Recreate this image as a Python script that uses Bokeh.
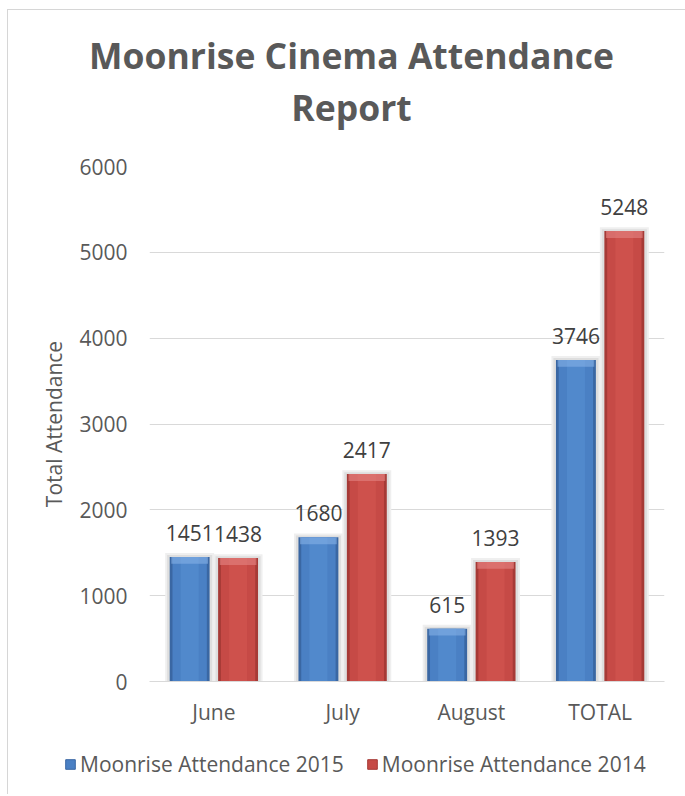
from bokeh.plotting import figure
from bokeh.models import (ColumnDataSource, Range1d, FactorRange, SingleIntervalTicker,
                          LabelSet, Legend, LegendItem, Label)
from bokeh.layouts import column
from bokeh.core.properties import value
from bokeh.transform import dodge
from bokeh.embed import file_html
from bokeh.resources import INLINE

# ---- data ----
months = ["June", "July", "August", "TOTAL"]
att_2015 = [1451, 1680, 615, 3746]
att_2014 = [1438, 2417, 1393, 5248]
series_names = ["Moonrise Attendance 2015", "Moonrise Attendance 2014"]
title_lines = ["Moonrise Cinema Attendance", "Report"]

FONT = "Open Sans"
GRAY = "#595959"
WIDTH = 677


def strip(height):
    f = figure(width=WIDTH, height=height, output_backend="svg", toolbar_location=None,
               x_range=Range1d(0, WIDTH), y_range=Range1d(0, height),
               x_axis_location=None, y_axis_location=None,
               min_border_left=0, min_border_right=0, min_border_top=0, min_border_bottom=0,
               outline_line_color=None, background_fill_color="white",
               border_fill_color="white")
    f.xgrid.grid_line_color = None
    f.ygrid.grid_line_color = None
    f.title = None
    f.frame_align = False
    return f


# ---- title strip ----
ts = strip(130)
ts.add_layout(Label(x=343, y=86, text=title_lines[0], text_align="center",
                    text_baseline="middle", text_font=FONT, text_font_size="35.5px",
                    text_font_style="bold", text_color=GRAY))
ts.add_layout(Label(x=343, y=34, text=title_lines[1], text_align="center",
                    text_baseline="middle", text_font=FONT, text_font_size="35.5px",
                    text_font_style="bold", text_color=GRAY))

# ---- main chart ----
src = ColumnDataSource(dict(
    m=months,
    a15=att_2015,
    a14=att_2014,
    a15_cap=[v - 80 for v in att_2015],
    a14_cap=[v - 80 for v in att_2014],
    a15_sh=[v + 45 for v in att_2015],
    a14_sh=[v + 45 for v in att_2014],
    a15_sh2=[v + 22 for v in att_2015],
    a14_sh2=[v + 22 for v in att_2014],
    l15=[str(v) for v in att_2015],
    l14=[str(v) for v in att_2014],
))

p = figure(x_range=FactorRange(*months), y_range=Range1d(0, 6000),
           width=WIDTH, height=596, output_backend="svg", toolbar_location=None,
           min_border_left=141, min_border_right=21, min_border_top=26,
           min_border_bottom=55, outline_line_color=None,
           background_fill_color="white", border_fill_color="white")
p.title = None
p.frame_align = False

W = 0.31
OFF = 0.188
BLUE = ("#3a67a3", "#4a80c4", "#5a94d8", "#86b0e6")
RED = ("#a63a36", "#c64a46", "#d65a55", "#e58683")

series = [
    ("a15", -OFF, BLUE, "a15_cap", "a15_sh", "a15_sh2", "l15"),
    ("a14", OFF, RED, "a14_cap", "a14_sh", "a14_sh2", "l14"),
]
for col, off, (dark, mid, light, cap), capcol, shcol, shcol2, lab in series:
    x = dodge("m", off, range=p.x_range)
    p.vbar(x=x, top=shcol, bottom=0, width=W + 0.07, source=src,
           fill_color="#efefef", line_color=None)
    p.vbar(x=x, top=shcol2, bottom=0, width=W + 0.04, source=src,
           fill_color="#dedede", line_color=None)
    p.vbar(x=x, top=col, bottom=0, width=W, source=src,
           fill_color=dark, line_color=None)
    p.vbar(x=x, top=col, bottom=0, width=W * 0.86, source=src,
           fill_color=mid, line_color=None)
    p.vbar(x=x, top=col, bottom=0, width=W * 0.45, source=src,
           fill_color=light, line_color=None, fill_alpha=0.45)
    p.vbar(x=x, top=col, bottom=capcol, width=W * 0.92, source=src,
           fill_color=cap, line_color=None, fill_alpha=0.6)
    p.add_layout(LabelSet(x=x, y=col, text=lab, source=src, y_offset=16,
                          text_align="center", text_baseline="bottom",
                          text_font=value(FONT), text_font_size="21px",
                          text_color="#404040"))

p.yaxis.ticker = SingleIntervalTicker(interval=1000)
p.yaxis.axis_line_color = None
p.yaxis.major_tick_line_color = None
p.yaxis.minor_tick_line_color = None
p.yaxis.major_label_text_font = FONT
p.yaxis.major_label_text_font_size = "21px"
p.yaxis.major_label_text_color = GRAY
p.yaxis.major_label_standoff = 16
p.yaxis.axis_label = "Total Attendance"
p.yaxis.axis_label_text_font = FONT
p.yaxis.axis_label_text_font_size = "21px"
p.yaxis.axis_label_text_font_style = "normal"
p.yaxis.axis_label_text_color = GRAY
p.yaxis.axis_label_standoff = 8

p.xaxis.axis_line_color = "#d9d9d9"
p.xaxis.major_tick_line_color = None
p.xaxis.minor_tick_line_color = None
p.xaxis.major_label_text_font = FONT
p.xaxis.major_label_text_font_size = "21px"
p.xaxis.major_label_text_color = GRAY
p.xaxis.major_label_standoff = 10

p.xgrid.grid_line_color = None
p.ygrid.grid_line_color = "#d9d9d9"
p.ygrid.grid_line_width = 1

# ---- legend strip ----
lg = strip(58)
key = ColumnDataSource(dict(x=[0.0], top=[0.0]))
lr1 = lg.vbar(x="x", top="top", bottom=0, width=0, source=key,
              fill_color=BLUE[1], line_color=BLUE[0])
lr2 = lg.vbar(x="x", top="top", bottom=0, width=0, source=key,
              fill_color=RED[1], line_color=RED[0])
legend = Legend(items=[LegendItem(label=series_names[0], renderers=[lr1]),
                       LegendItem(label=series_names[1], renderers=[lr2])],
                orientation="horizontal", location=(56, 16),
                label_text_font=FONT, label_text_font_size="21px", label_text_color=GRAY,
                glyph_width=12, glyph_height=12, label_standoff=4, spacing=22,
                border_line_color=None, background_fill_alpha=0, padding=0, margin=0)
lg.add_layout(legend, "center")

layout = column(ts, p, lg, spacing=0,
                styles={"margin-left": "7px", "margin-top": "9px",
                        "border-left": "1px solid #d6d6d6", "border-top": "1px solid #d6d6d6"})

open("out.html", "w").write(file_html(layout, INLINE))
